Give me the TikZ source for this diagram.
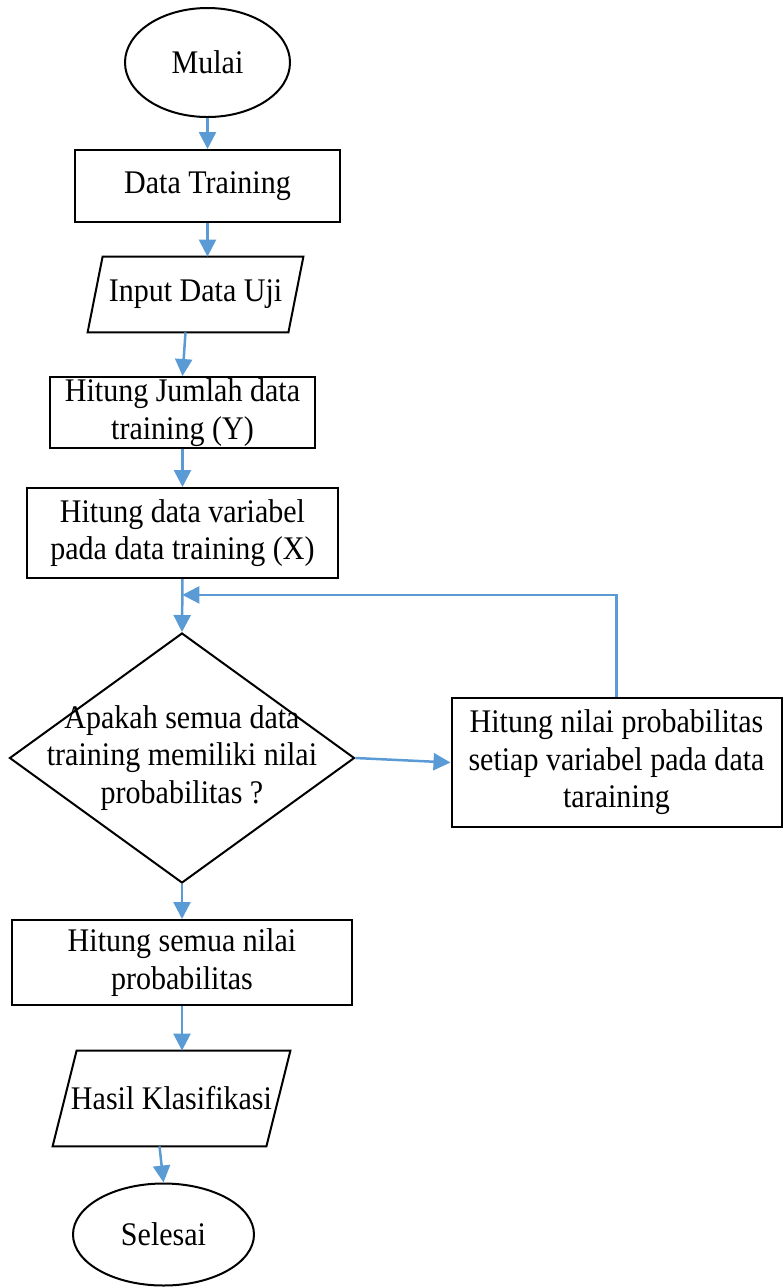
\documentclass[tikz,border=0pt]{standalone}
\usepackage{fontspec}
\setmainfont{Liberation Serif}[FakeStretch=0.91]
\usepackage{xcolor}
\usepackage{tikz}
\usetikzlibrary{shapes.geometric,arrows.meta,calc}
\definecolor{flowblue}{RGB}{91,155,213}

\begin{document}
\begin{tikzpicture}[x=0.5pt,y=-0.5pt,font=\fontsize{16.5}{18.75}\selectfont,>={Triangle[width=8.5pt,length=8.5pt]},
  box/.style={draw,line width=1pt,align=center,inner sep=0pt},
  term/.style={box,ellipse},
  io/.style={align=center,inner sep=0pt},
  decision/.style={box,diamond},
  flow/.style={->,flowblue,line width=1.25pt}]
\useasboundingbox (0,0) rectangle (783,1287);
\node[term,minimum width=82.5pt,minimum height=54.5pt] (mulai) at (207.5,62.5) {Mulai};
\node[box,minimum width=132.5pt,minimum height=36pt] (train) at (207.5,186) {Data Training};
\node[io,minimum width=100pt,minimum height=37.5pt] (uji) at (195.5,294.5) {Input Data Uji};
\node[box,minimum width=132.5pt,minimum height=35.5pt] (jumlah) at (182.5,412.5) {Hitung Jumlah data\\training (Y)};
\node[box,minimum width=155.5pt,minimum height=45pt] (variabel) at (182.5,533) {Hitung data variabel\\pada data training (X)};
\node[decision,minimum width=172.5pt,minimum height=125pt,
  label={[align=center]center:Apakah semua data\\training memiliki nilai\\probabilitas ?}] (cek) at (182,758) {};
\node[box,minimum width=165pt,minimum height=64.5pt] (prob) at (616.5,762.5) {Hitung nilai probabilitas\\setiap variabel pada data\\taraining};
\node[box,minimum width=170pt,minimum height=42.5pt] (semua) at (182,962.5) {Hitung semua nilai\\probabilitas};
\node[io,minimum width=106.5pt,minimum height=47.5pt] (hasil) at (171.5,1098.5) {Hasil Klasifikasi};
\node[term,minimum width=90.5pt,minimum height=51pt] (selesai) at (163.5,1234.5) {Selesai};
\foreach \n/\s in {uji/3.75pt, hasil/6pt} {
  \draw[line width=1pt] ([xshift=\s]\n.north west) -- ([xshift=\s]\n.north east)
    -- ([xshift=-\s]\n.south east) -- ([xshift=-\s]\n.south west) -- cycle;
}
\coordinate (balik) at ($(variabel.south)!0.3!(cek.north)$);
\draw[flow] (mulai) -- (train);
\draw[flow] (train.south) -- (train.south |- uji.north);
\draw[flow] ([xshift=-5pt]uji.south) -- (jumlah.north);
\draw[flow] (jumlah) -- (variabel);
\draw[flow] (variabel.south) -- (cek.north);
\draw[flow] (cek.east) -- (prob.west);
\draw[flow] (prob.north) |- (balik);
\draw[flow] (cek.south) -- (semua.north);
\draw[flow] (semua.south) -- (semua.south |- hasil.north);
\draw[flow] ([xshift=-6pt]hasil.south) -- (selesai.north);
\end{tikzpicture}
\end{document}
